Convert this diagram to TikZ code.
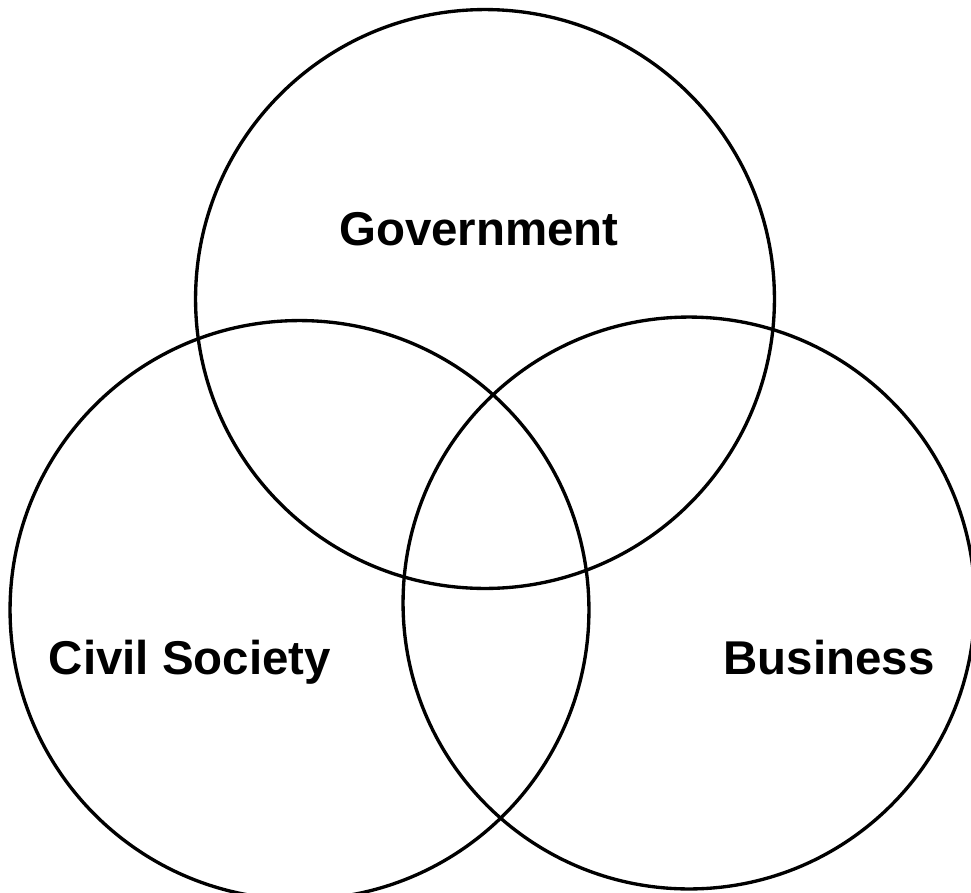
\documentclass[tikz,border=0pt]{standalone}
\usepackage{fontspec}
\setmainfont{Liberation Sans}
\usetikzlibrary{positioning}

\begin{document}
\begin{tikzpicture}[x=0.02cm,y=-0.02cm,
		ring/.style={draw,line width=1.9pt},
		lbl/.style={anchor=base,font=\fontsize{27}{32}\selectfont\bfseries}]
		\useasboundingbox (0,0) rectangle (971,893);
		% centres of the three sets
		\coordinate (gov) at (485,299);
		\coordinate (civ) at (299.5,610);
		\coordinate (bus) at (689,603);
		\draw[ring] (gov) circle [radius=5.79cm];
		\draw[ring] (civ) circle [radius=5.79cm];
		\draw[ring] (bus) circle [radius=5.72cm];
		\node[lbl] (govlbl) at (479,245) {Government};
		\node[lbl] (civlbl) at (190,674) {Civil Society};
		\node[lbl] (buslbl) at (829,674) {Business};
	\end{tikzpicture}
\end{document}
